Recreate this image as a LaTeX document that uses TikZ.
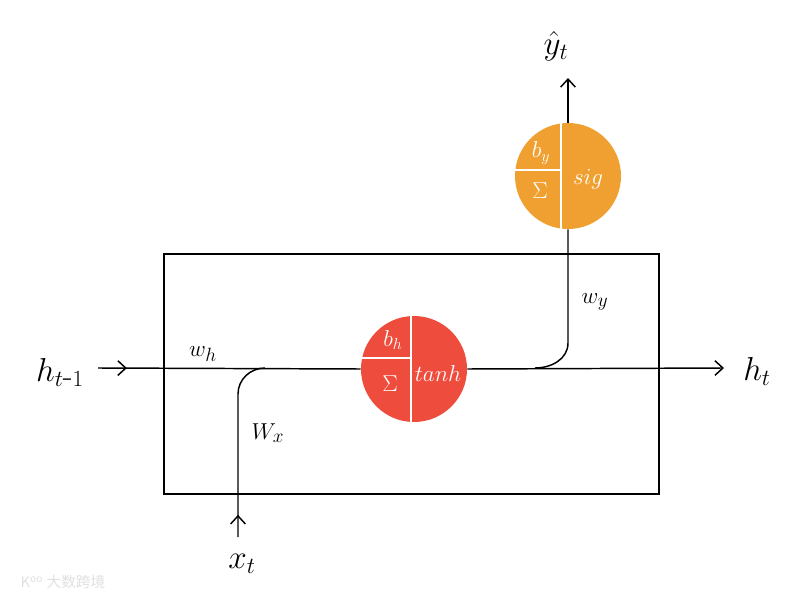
\documentclass[tikz,border=0pt]{standalone}
\usepackage{fontspec}
\newfontfamily\cjk{Noto Sans CJK SC}
\usetikzlibrary{arrows.meta,decorations.markings}
\definecolor{rnnred}{RGB}{238,76,60}
\definecolor{rnnorange}{RGB}{239,160,49}
\tikzset{
  wire/.style={line width=1.1pt,black},
  opentip/.style={-{Straight Barb[length=6pt,width=11pt,line width=1.1pt]}},
  lbl/.style={font=\fontsize{19}{21}\selectfont,inner sep=0pt},
  biglbl/.style={font=\fontsize{24}{26}\selectfont,inner sep=0pt},
  inlbl/.style={text=white,font=\fontsize{17}{19}\selectfont,inner sep=0pt},
  divider/.style={white,line width=1.2pt},
  midtip/.style={postaction={decorate},decoration={markings,mark=at position #1 with {\arrow{Straight Barb[length=6pt,width=11pt,line width=1.1pt]}}}}
}
\begin{document}
\begin{tikzpicture}[x=0.75pt,y=-0.75pt]
\useasboundingbox (0,0) rectangle (800,599);
% cell box
\draw[line width=0.9pt] (164,254) rectangle (659,494);
% circles
\fill[rnnred] (414,369) circle (53);
\node[circle,minimum size=79.5pt,inner sep=0pt] (tanhc) at (414,369) {};
\draw[divider] (411,316) -- (411,422);
\draw[divider] (361,358) -- (411,358);
\node[inlbl] (bh) at (393,340) {$b_h$};
\node[inlbl] (sumh) at (390,384) {$\Sigma$};
\node[inlbl] (tanh) at (438,373) {$tanh$};

\fill[rnnorange] (568,176) circle (53);
\node[circle,minimum size=79.5pt,inner sep=0pt] (sigc) at (568,176) {};
\draw[divider] (561,123) -- (561,229);
\draw[divider] (515,170) -- (561,170);
\node[inlbl] (by) at (541,153) {$b_y$};
\node[inlbl] (sumy) at (540,191) {$\Sigma$};
\node[inlbl] (sig) at (588,179) {$sig$};

% coordinates
\coordinate (hin) at (98,368);
\coordinate (hout) at (724,368);
\coordinate (xin) at (238,537);
\coordinate (yout) at (568,78);
\coordinate (merge) at (535,368);

% main line
\draw[wire,midtip=0.11] (hin) -- (tanhc.west);
\draw[wire,opentip] (tanhc.east) -- (hout);
% x input
\draw[wire,midtip=0.12] (xin) -- (238,394) to[out=90,in=180] (265,368);
% y branch
\draw[wire] (sigc.south) -- (568,343) to[out=-90,in=0] (merge);
\draw[wire,opentip] (sigc.north) -- (yout);

% labels
\node[biglbl] (hprev) at (60,372) {$h_{t\mbox{-}1}$};
\node[biglbl] (hnext) at (757,371) {$h_t$};
\node[biglbl] (xt) at (242,564) {$x_t$};
\node[biglbl] (yt) at (556,46) {$\hat{y}_t$};
\node[lbl] (wh) at (203,354) {$w_h$};
\node[lbl] (wx) at (268,433) {$W_x$};
\node[lbl] (wy) at (595,302) {$w_y$};
% watermark
\node[text=black!12,font=\cjk\fontsize{11}{12}\selectfont,inner sep=0pt] (wm) at (63,582) {K\textsuperscript{oo} 大数跨境};
\end{tikzpicture}
\end{document}
